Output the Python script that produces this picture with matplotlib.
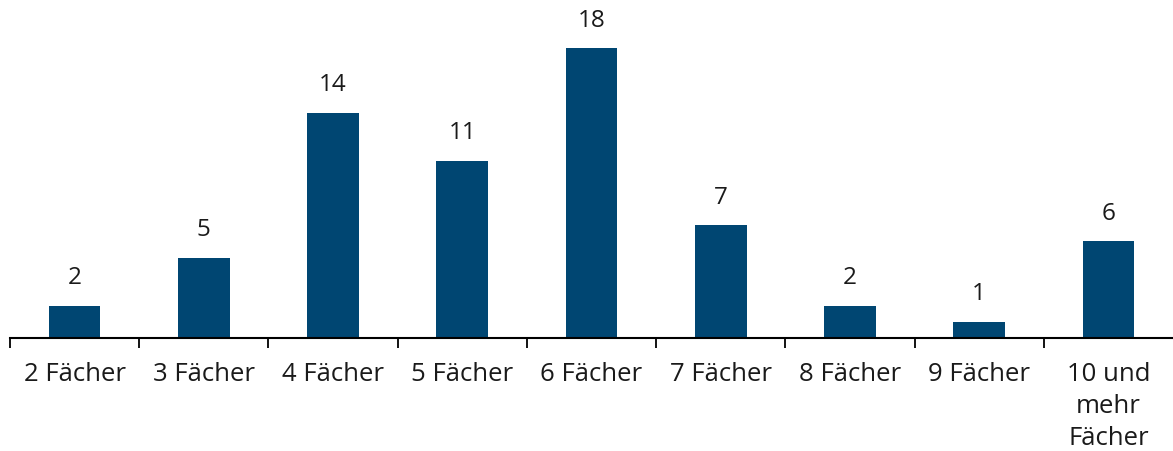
import numpy as np
import matplotlib.pyplot as plt

plt.rcParams['font.family'] = ['Open Sans', 'DejaVu Sans']

kategorien = ['2 Fächer', '3 Fächer', '4 Fächer', '5 Fächer', '6 Fächer',
              '7 Fächer', '8 Fächer', '9 Fächer', '10 und\nmehr\nFächer']
werte = [2, 5, 14, 11, 18, 7, 2, 1, 6]

fig = plt.figure(figsize=(11.73, 4.51), dpi=100)
ax = fig.add_axes([10 / 1173, 113 / 451, 1 - 10 / 1173, 338 / 451])

x = np.arange(len(kategorien))
bars = ax.bar(x, werte, width=0.4, color='#004672')

for b, v in zip(bars, werte):
    ax.annotate(str(v), (b.get_x() + b.get_width() / 2, v),
                xytext=(0, 20), textcoords='offset points',
                ha='center', va='center', fontsize=17.5, color='#1a1a1a')

ax.set_xlim(-0.5, len(kategorien) - 0.5)
ax.set_ylim(0, 21.0)

# Beschriftungen in der Mitte, Striche an den Grenzen
ax.set_xticks(x)
ax.set_xticklabels(kategorien, fontsize=18.5, color='#1a1a1a', va='top', linespacing=1.38)
ax.tick_params(axis='x', which='major', length=0, pad=17)
ax.set_xticks(np.arange(-0.5, len(kategorien) - 1, 1), minor=True)
ax.tick_params(axis='x', which='minor', length=7, width=1.3, direction='out')

ax.set_yticks([])
for s in ['top', 'right', 'left']:
    ax.spines[s].set_visible(False)
ax.spines['bottom'].set_linewidth(1.5)

fig.savefig('out.png', dpi=100)
